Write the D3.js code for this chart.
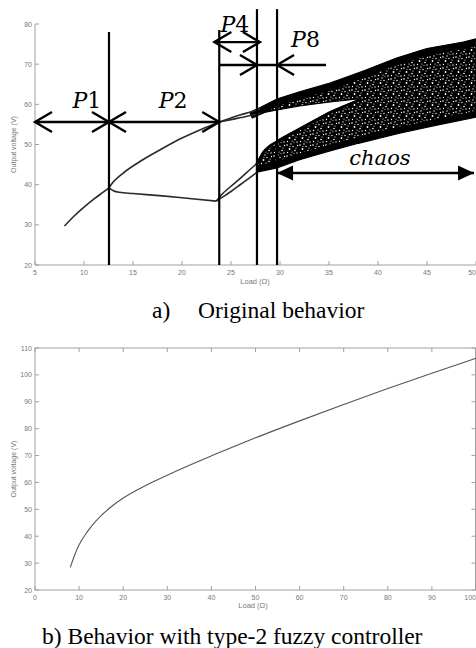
<!DOCTYPE html>
<html>
<head>
<meta charset="utf-8">
<script src="https://cdn.jsdelivr.net/npm/d3@7"></script>
<style>
  body { margin: 0; background: #fff; }
  svg { display: block; }
</style>
</head>
<body>
<svg id="chart" width="476" height="648"></svg>
<script>
// ---- panel a) : bifurcation diagram, original behavior ----
const p1Load = [8, 9, 10, 11, 12, 12.55];
const p1V = [29.7, 32.2, 34.4, 36.4, 38.2, 39.2];
const p2UpLoad = [12.55, 13, 14, 16, 18, 20, 22, 23.8];
const p2UpV = [39.2, 40.7, 42.9, 46.2, 49.0, 51.6, 53.8, 55.6];
const p2LoLoad = [12.55, 13, 13.6, 15, 18, 21, 23.5];
const p2LoV = [39.2, 38.5, 38.1, 37.8, 37.2, 36.5, 35.9];
const p4UpLoad = [23.8, 25, 26, 27, 28];
const p4UpA = [55.6, 56.6, 57.4, 58.1, 58.9];
const p4UpB = [55.6, 56.2, 56.7, 57.2, 57.8];
const p4LoLoad = [23.5, 24, 25, 26, 27, 27.7];
const p4LoA = [35.9, 37.4, 39.6, 41.7, 43.9, 45.4];
const p4LoB = [35.9, 36.7, 38.3, 40.1, 41.9, 43.2];

// chaotic bands, envelopes
const upTopLoad = [27, 28, 29.7, 32, 35.1, 38.5, 41.9, 45, 48.7, 50];
const upTopV = [58.1, 59.2, 61.3, 63.1, 65.3, 68.3, 71.5, 73.9, 75.5, 76.3];
const upBotLoad = [27, 28, 29.7, 32, 35.1, 38.2];
const upBotV = [57.3, 57.8, 58.6, 59.6, 60.6, 61.4];
const loTopLoad = [27.6, 28.3, 30, 32, 35.1, 38.2];
const loTopV = [45.3, 48.3, 51.4, 54.1, 58.2, 61.4];
const loBotLoad = [27.6, 29.7, 32, 35.1, 38, 42.2, 46, 50];
const loBotV = [43.1, 44.2, 46.2, 48.4, 50.3, 52.8, 54.8, 56.8];

// annotation: period boundaries
const boundLoad = [12.55, 23.8, 27.65, 29.7];
const boundTopV = [78.0, 78.5, 83.7, 83.7];
const periodLabels = ['P1', 'P2', 'P4', 'P8'];
const periodLabelLoad = [10.3, 19.1, 25.4, 32.6];
const periodLabelV = [59.1, 59.1, 78.0, 74.3];

const xTicksA = [5, 10, 15, 20, 25, 30, 35, 40, 45, 50];
const yTicksA = [20, 30, 40, 50, 60, 70, 80];

// ---- panel b) : with type-2 fuzzy controller ----
const fzLoad = [8, 9, 10, 12, 14, 17, 20, 25, 30, 35, 40, 45, 50, 60, 70, 80, 90, 100];
const fzV = [28.4, 33.0, 36.8, 42.0, 46.0, 50.6, 54.2, 58.8, 62.7, 66.4, 69.9, 73.3, 76.6, 82.9, 89.0, 94.9, 100.6, 106.2];
const xTicksB = [0, 10, 20, 30, 40, 50, 60, 70, 80, 90, 100];
const yTicksB = [20, 30, 40, 50, 60, 70, 80, 90, 100, 110];

const svg = d3.select('#chart');
const axisCol = '#a0a0a0';
const tickCol = '#777';
const sans = '"Liberation Sans", Arial, sans-serif';
const serif = '"Liberation Serif", "Times New Roman", serif';
const mathFont = '"DejaVu Serif", serif';

// speckle fill for the chaotic region
const defs = svg.append('defs');
const pat = defs.append('pattern')
  .attr('id', 'speckle')
  .attr('patternUnits', 'userSpaceOnUse')
  .attr('width', 13).attr('height', 11);
pat.append('rect').attr('width', 13).attr('height', 11).attr('fill', '#000');
[[1, 2, 0.8], [5, 1, 0.65], [3.5, 6, 0.9], [9, 7.5, 0.8], [7, 3.5, 0.7], [11.5, 2.5, 0.7],
 [1.5, 9.5, 0.65], [6, 9, 0.6], [11, 10, 0.65], [10, 5, 0.55], [4, 3.5, 0.5], [8, 10.3, 0.5]]
  .forEach(d => pat.append('circle').attr('cx', d[0]).attr('cy', d[1]).attr('r', d[2]).attr('fill', '#fff'));

const zip = (xs, ys) => xs.map((x, i) => [x, ys[i]]);
const lastEnd = (arr) => (d, i) => i === arr.length - 1 ? 'end' : 'middle';

// ================= panel a =================
const xA = d3.scaleLinear().domain([5, 50]).range([35, 476]);
const yA = d3.scaleLinear().domain([20, 80]).range([265, 24]);

const gA = svg.append('g');

// axes (left + bottom only)
gA.append('line').attr('x1', xA(5)).attr('x2', xA(50)).attr('y1', yA(20)).attr('y2', yA(20))
  .attr('stroke', axisCol);
gA.append('line').attr('x1', xA(5)).attr('x2', xA(5)).attr('y1', yA(20)).attr('y2', yA(80))
  .attr('stroke', axisCol);
gA.selectAll('.xt').data(xTicksA).join('line')
  .attr('x1', d => xA(d)).attr('x2', d => xA(d)).attr('y1', yA(20)).attr('y2', yA(20) - 4)
  .attr('stroke', axisCol);
gA.selectAll('.yt').data(yTicksA).join('line')
  .attr('x1', xA(5)).attr('x2', xA(5) + 4).attr('y1', d => yA(d)).attr('y2', d => yA(d))
  .attr('stroke', axisCol);
gA.selectAll('.xl').data(xTicksA).join('text')
  .attr('x', d => xA(d)).attr('y', yA(20) + 10)
  .attr('text-anchor', lastEnd(xTicksA)).attr('font-family', sans)
  .attr('font-size', 7).attr('fill', tickCol).text(d => d);
gA.selectAll('.yl').data(yTicksA).join('text')
  .attr('x', xA(5) - 3).attr('y', d => yA(d) + 2.5)
  .attr('text-anchor', 'end').attr('font-family', sans)
  .attr('font-size', 7).attr('fill', tickCol).text(d => d);
gA.append('text')
  .attr('x', 255).attr('y', yA(20) + 19)
  .attr('text-anchor', 'middle').attr('font-family', sans)
  .attr('font-size', 7.5).attr('fill', tickCol).text('Load (Ω)');
gA.append('text')
  .attr('transform', `translate(16,${(yA(20) + yA(80)) / 2}) rotate(-90)`)
  .attr('text-anchor', 'middle').attr('font-family', sans)
  .attr('font-size', 7).attr('fill', tickCol).text('Output voltage (V)');

// chaotic band: one outline with the gap between the two sub-bands
const band = [].concat(
  zip(upTopLoad, upTopV),
  zip(loBotLoad, loBotV).reverse(),
  zip(loTopLoad, loTopV),
  zip(upBotLoad, upBotV).reverse()
);
const area = d3.line().x(d => xA(d[0])).y(d => yA(d[1])).curve(d3.curveLinearClosed);
gA.append('path').attr('d', area(band)).attr('fill', 'url(#speckle)').attr('stroke', '#000').attr('stroke-width', 1.2);

// dense edges of the bands
const edge = d3.line().x(d => xA(d[0])).y(d => yA(d[1])).curve(d3.curveMonotoneX);
gA.append('path').attr('d', edge(zip(upTopLoad, upTopV.map(v => v - 0.9))))
  .attr('fill', 'none').attr('stroke', '#000').attr('stroke-width', 7);
gA.append('path').attr('d', edge(zip(loBotLoad, loBotV.map(v => v + 0.8))))
  .attr('fill', 'none').attr('stroke', '#000').attr('stroke-width', 6);
gA.append('path').attr('d', edge(zip(loTopLoad, loTopV.map(v => v - 0.3))))
  .attr('fill', 'none').attr('stroke', '#000').attr('stroke-width', 2.5);

// periodic branches
const branches = [
  zip(p1Load, p1V), zip(p2UpLoad, p2UpV), zip(p2LoLoad, p2LoV),
  zip(p4UpLoad, p4UpA), zip(p4UpLoad, p4UpB), zip(p4LoLoad, p4LoA), zip(p4LoLoad, p4LoB)
];
gA.selectAll('.br').data(branches).join('path')
  .attr('d', d => edge(d))
  .attr('fill', 'none').attr('stroke', '#2a2a2a').attr('stroke-width', 1.6);

// boundaries between periods
gA.selectAll('.bd').data(boundLoad).join('line')
  .attr('x1', d => xA(d)).attr('x2', d => xA(d))
  .attr('y1', (d, i) => yA(boundTopV[i])).attr('y2', yA(20))
  .attr('stroke', '#000').attr('stroke-width', 2.2);

// open chevron arrowheads
function chevron(g, x, y, dir) {
  g.append('path')
    .attr('d', `M${x - dir * 17},${y - 10}L${x},${y}L${x - dir * 17},${y + 10}`)
    .attr('fill', 'none').attr('stroke', '#000').attr('stroke-width', 2.4);
}
function hline(g, l0, l1, v) {
  g.append('line').attr('x1', xA(l0)).attr('x2', xA(l1)).attr('y1', yA(v)).attr('y2', yA(v))
    .attr('stroke', '#000').attr('stroke-width', 2.4);
}

// P1 / P2 arrow
hline(gA, 5, 23.8, 55.6);
chevron(gA, xA(5), yA(55.6), -1);
chevron(gA, xA(12.55), yA(55.6), 1);
chevron(gA, xA(12.55), yA(55.6), -1);
chevron(gA, xA(23.8), yA(55.6), 1);
// P4 arrow
hline(gA, 23.3, 27.95, 75.5);
chevron(gA, xA(23.3), yA(75.5), -1);
chevron(gA, xA(27.95), yA(75.5), 1);
// P8 arrow
hline(gA, 23.8, 34.7, 69.8);
chevron(gA, xA(27.65), yA(69.8), 1);
chevron(gA, xA(29.7), yA(69.8), -1);
// chaos arrow with filled heads
hline(gA, 29.7, 49.8, 42.9);
[[29.7, -1], [49.8, 1]].forEach(([l, dir]) => {
  const x = xA(l), y = yA(42.9);
  gA.append('path').attr('d', `M${x},${y}L${x - dir * 16},${y - 7.5}L${x - dir * 16},${y + 7.5}Z`)
    .attr('fill', '#000');
});

// labels
periodLabels.forEach((t, i) => {
  const txt = gA.append('text')
    .attr('x', xA(periodLabelLoad[i])).attr('y', yA(periodLabelV[i]))
    .attr('text-anchor', 'middle').attr('font-family', mathFont).attr('font-size', 22).attr('fill', '#000');
  txt.append('tspan').attr('font-style', 'italic').text(t[0]);
  txt.append('tspan').text(t.slice(1));
});
gA.append('text')
  .attr('x', xA(40.2)).attr('y', yA(44.9))
  .attr('text-anchor', 'middle').attr('font-family', mathFont).attr('font-style', 'italic')
  .attr('font-size', 21).attr('fill', '#000').text('chaos');

// caption a)
const capA = svg.append('text').attr('y', 318)
  .attr('font-family', serif).attr('font-size', 23.5).attr('fill', '#000');
capA.append('tspan').attr('x', 152).text('a)');
capA.append('tspan').attr('x', 198).text('Original behavior');

// ================= panel b =================
const xB = d3.scaleLinear().domain([0, 100]).range([35, 476]);
const yB = d3.scaleLinear().domain([20, 110]).range([590, 348]);
const gB = svg.append('g');

gB.append('rect').attr('x', xB(0)).attr('y', yB(110))
  .attr('width', xB(100) - xB(0) - 0.5).attr('height', yB(20) - yB(110))
  .attr('fill', 'none').attr('stroke', axisCol);
gB.selectAll('.xt').data(xTicksB).join('line')
  .attr('x1', d => xB(d)).attr('x2', d => xB(d)).attr('y1', yB(20)).attr('y2', yB(20) - 4)
  .attr('stroke', axisCol);
gB.selectAll('.xt2').data(xTicksB).join('line')
  .attr('x1', d => xB(d)).attr('x2', d => xB(d)).attr('y1', yB(110)).attr('y2', yB(110) + 4)
  .attr('stroke', axisCol);
gB.selectAll('.yt').data(yTicksB).join('line')
  .attr('x1', xB(0)).attr('x2', xB(0) + 4).attr('y1', d => yB(d)).attr('y2', d => yB(d))
  .attr('stroke', axisCol);
gB.selectAll('.yt2').data(yTicksB).join('line')
  .attr('x1', xB(100) - 0.5).attr('x2', xB(100) - 4.5).attr('y1', d => yB(d)).attr('y2', d => yB(d))
  .attr('stroke', axisCol);
gB.selectAll('.xl').data(xTicksB).join('text')
  .attr('x', d => xB(d)).attr('y', yB(20) + 10)
  .attr('text-anchor', lastEnd(xTicksB)).attr('font-family', sans)
  .attr('font-size', 7).attr('fill', tickCol).text(d => d);
gB.selectAll('.yl').data(yTicksB).join('text')
  .attr('x', xB(0) - 3).attr('y', d => yB(d) + 2.5)
  .attr('text-anchor', 'end').attr('font-family', sans)
  .attr('font-size', 7).attr('fill', tickCol).text(d => d);
gB.append('text')
  .attr('x', 253).attr('y', yB(20) + 18)
  .attr('text-anchor', 'middle').attr('font-family', sans)
  .attr('font-size', 7.5).attr('fill', tickCol).text('Load (Ω)');
gB.append('text')
  .attr('transform', `translate(16,${(yB(20) + yB(110)) / 2}) rotate(-90)`)
  .attr('text-anchor', 'middle').attr('font-family', sans)
  .attr('font-size', 7).attr('fill', tickCol).text('Output voltage (V)');

gB.append('path')
  .attr('d', d3.line().x(d => xB(d[0])).y(d => yB(d[1])).curve(d3.curveMonotoneX)(zip(fzLoad, fzV)))
  .attr('fill', 'none').attr('stroke', '#555').attr('stroke-width', 1.1);

svg.append('text').attr('x', 42).attr('y', 644)
  .attr('font-family', serif).attr('font-size', 23.5).attr('fill', '#000')
  .text('b) Behavior with type-2 fuzzy controller');
</script>
</body>
</html>
